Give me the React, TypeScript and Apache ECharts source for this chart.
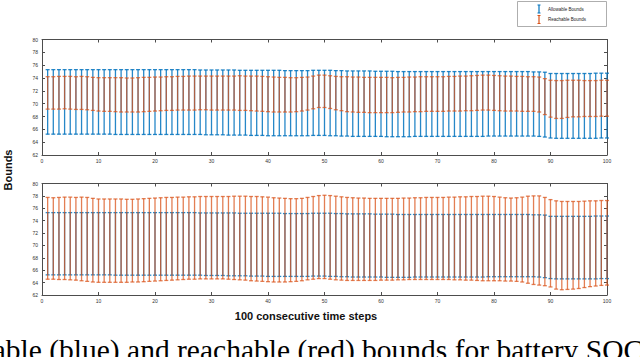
import React, { useEffect, useRef } from "react";
import * as echarts from "echarts";

const xTicks = [0, 10, 20, 30, 40, 50, 60, 70, 80, 90, 100];
const yTicks = [62, 64, 66, 68, 70, 72, 74, 76, 78, 80];

// Allowable bounds (same in both panels)
const allowHigh = [
  75.3, 75.3, 75.3, 75.3, 75.3, 75.3, 75.3, 75.3, 75.3, 75.3,
  75.3, 75.3, 75.3, 75.3, 75.3, 75.3, 75.3, 75.3, 75.3, 75.3,
  75.3, 75.3, 75.3, 75.3, 75.3, 75.3, 75.3, 75.25, 75.25, 75.25,
  75.25, 75.25, 75.25, 75.25, 75.2, 75.2, 75.2, 75.2, 75.2, 75.2,
  75.2, 75.2, 75.15, 75.15, 75.15, 75.15, 75.15, 75.2, 75.2, 75.2,
  75.2, 75.15, 75.15, 75.1, 75.1, 75.1, 75.1, 75.1, 75.05, 75.05,
  75.05, 75.05, 75.0, 75.0, 75.0, 75.0, 75.0, 75.0, 75.0, 75.0,
  75.0, 75.0, 75.0, 75.0, 75.0, 75.0, 75.0, 75.0, 75.0, 75.0,
  75.0, 75.0, 75.0, 75.0, 75.0, 75.0, 74.95, 74.95, 74.9, 74.7,
  74.7, 74.7, 74.7, 74.7, 74.7, 74.7, 74.7, 74.75, 74.75, 74.75,
];
const allowLow = [
  65.25, 65.25, 65.25, 65.25, 65.25, 65.25, 65.25, 65.25, 65.25, 65.25,
  65.25, 65.25, 65.2, 65.2, 65.2, 65.2, 65.2, 65.2, 65.2, 65.2,
  65.2, 65.2, 65.2, 65.2, 65.2, 65.2, 65.2, 65.2, 65.15, 65.15,
  65.15, 65.15, 65.1, 65.1, 65.1, 65.1, 65.05, 65.05, 65.05, 65.0,
  65.0, 65.0, 65.0, 65.0, 65.0, 65.0, 65.0, 65.05, 65.05, 65.05,
  65.0, 65.0, 64.95, 64.95, 64.9, 64.9, 64.9, 64.9, 64.9, 64.9,
  64.85, 64.85, 64.85, 64.85, 64.85, 64.9, 64.9, 64.9, 64.9, 64.9,
  64.9, 64.9, 64.9, 64.9, 64.9, 64.9, 64.9, 64.9, 64.95, 64.95,
  64.95, 64.95, 64.95, 64.95, 64.95, 64.95, 64.95, 64.9, 64.8, 64.65,
  64.6, 64.6, 64.6, 64.6, 64.6, 64.6, 64.6, 64.6, 64.65, 64.65,
];

// Top panel reachable bounds
const reachTopHigh = [
  74.2, 74.2, 74.25, 74.25, 74.25, 74.2, 74.25, 74.2, 74.1, 74.05,
  74.05, 74.05, 74.05, 74.05, 74.0, 74.0, 74.05, 74.1, 74.1, 74.15,
  74.15, 74.2, 74.2, 74.25, 74.25, 74.3, 74.3, 74.3, 74.3, 74.3,
  74.3, 74.3, 74.3, 74.3, 74.35, 74.3, 74.3, 74.3, 74.25, 74.2,
  74.15, 74.1, 74.1, 74.05, 74.05, 74.1, 74.15, 74.3, 74.45, 74.45,
  74.35, 74.25, 74.2, 74.2, 74.15, 74.15, 74.1, 74.1, 74.1, 74.1,
  74.1, 74.05, 74.1, 74.1, 74.15, 74.15, 74.2, 74.2, 74.2, 74.2,
  74.2, 74.25, 74.25, 74.3, 74.3, 74.35, 74.4, 74.45, 74.45, 74.4,
  74.35, 74.3, 74.3, 74.25, 74.25, 74.2, 74.2, 74.15, 73.9, 73.65,
  73.6, 73.6, 73.65, 73.65, 73.65, 73.6, 73.6, 73.6, 73.65, 73.65,
];
const reachTopLow = [
  69.15, 69.15, 69.15, 69.2, 69.15, 69.1, 69.1, 69.05, 68.95, 68.85,
  68.8, 68.8, 68.75, 68.7, 68.7, 68.7, 68.7, 68.75, 68.8, 68.85,
  68.9, 68.95, 68.95, 69.0, 69.0, 69.0, 69.0, 69.05, 69.05, 69.0,
  69.0, 69.0, 69.0, 69.0, 68.95, 68.95, 68.9, 68.85, 68.8, 68.75,
  68.7, 68.7, 68.7, 68.7, 68.75, 68.85, 69.0, 69.2, 69.4, 69.4,
  69.25, 69.05, 68.9, 68.75, 68.7, 68.65, 68.65, 68.6, 68.6, 68.6,
  68.6, 68.6, 68.65, 68.7, 68.7, 68.75, 68.75, 68.8, 68.8, 68.8,
  68.8, 68.85, 68.85, 68.85, 68.9, 68.9, 68.95, 69.0, 69.0, 68.95,
  68.9, 68.85, 68.85, 68.85, 68.8, 68.8, 68.8, 68.7, 68.3, 67.9,
  67.7, 67.7, 67.85, 67.95, 67.95, 68.0, 68.0, 68.0, 68.05, 68.05,
];

// Bottom panel reachable bounds
const reachBotHigh = [
  77.75, 77.7, 77.75, 77.8, 77.8, 77.75, 77.8, 77.75, 77.6, 77.5,
  77.5, 77.5, 77.5, 77.5, 77.45, 77.45, 77.5, 77.55, 77.6, 77.65,
  77.7, 77.75, 77.75, 77.8, 77.8, 77.85, 77.85, 77.9, 77.9, 77.9,
  77.9, 77.9, 77.9, 77.95, 77.95, 77.95, 77.9, 77.9, 77.85, 77.8,
  77.7, 77.65, 77.6, 77.55, 77.55, 77.6, 77.75, 77.9, 78.05, 78.1,
  78.05, 77.95, 77.85, 77.75, 77.7, 77.65, 77.65, 77.6, 77.6, 77.6,
  77.6, 77.6, 77.6, 77.65, 77.65, 77.7, 77.7, 77.75, 77.75, 77.75,
  77.75, 77.8, 77.8, 77.85, 77.85, 77.9, 77.9, 77.95, 77.95, 77.9,
  77.8, 77.7, 77.65, 77.7, 77.8, 77.95, 78.0, 78.0, 77.75, 77.4,
  77.2, 77.1, 77.1, 77.1, 77.1, 77.15, 77.2, 77.2, 77.25, 77.25,
];
const reachBotLow = [
  64.55, 64.55, 64.5, 64.5, 64.45, 64.4, 64.3, 64.2, 64.1, 64.05,
  64.05, 64.05, 64.05, 64.05, 64.05, 64.1, 64.1, 64.15, 64.2, 64.25,
  64.3, 64.35, 64.4, 64.45, 64.5, 64.55, 64.55, 64.6, 64.6, 64.6,
  64.6, 64.6, 64.55, 64.5, 64.45, 64.4, 64.3, 64.25, 64.2, 64.15,
  64.1, 64.1, 64.1, 64.15, 64.2, 64.3, 64.45, 64.55, 64.65, 64.65,
  64.55, 64.45, 64.4, 64.35, 64.35, 64.35, 64.35, 64.35, 64.35, 64.4,
  64.4, 64.4, 64.45, 64.45, 64.5, 64.5, 64.5, 64.5, 64.5, 64.5,
  64.5, 64.5, 64.45, 64.45, 64.4, 64.4, 64.35, 64.3, 64.3, 64.3,
  64.3, 64.25, 64.25, 64.2, 64.1, 63.9, 63.7, 63.6, 63.5, 63.3,
  62.95, 62.85, 62.9, 62.95, 63.05, 63.2, 63.35, 63.45, 63.55, 63.6,
];

const legendNames = ["Allowable Bounds", "Reachable Bounds"];
const xLabel = "100 consecutive time steps";
const yLabel = "Bounds";
const caption = "Allowable (blue) and reachable (red) bounds for battery SOC";

const BLUE = "#0072BD";
const RED = "#D95319";
const AXIS = "#4d4d4d";

function errorBarSeries(name: string, low: number[], high: number[], color: string, axisIdx: number, opacity: number) {
  const data = low.map((lo, i) => [i + 1, lo, high[i]]);
  return {
    type: "custom",
    name,
    xAxisIndex: axisIdx,
    yAxisIndex: axisIdx,
    data,
    encode: { x: 0, y: [1, 2] },
    clip: false,
    renderItem: (params: any, api: any) => {
      const x = api.value(0);
      const pLo = api.coord([x, api.value(1)]);
      const pHi = api.coord([x, api.value(2)]);
      const hw = 2;
      const st = { stroke: color, lineWidth: 1.3, opacity };
      return {
        type: "group",
        children: [
          { type: "line", shape: { x1: pLo[0], y1: pLo[1], x2: pHi[0], y2: pHi[1] }, style: st },
          { type: "line", shape: { x1: pLo[0] - hw, y1: pLo[1], x2: pLo[0] + hw, y2: pLo[1] }, style: st },
          { type: "line", shape: { x1: pHi[0] - hw, y1: pHi[1], x2: pHi[0] + hw, y2: pHi[1] }, style: st },
        ],
      };
    },
  };
}

function makeX(gridIndex: number, position: string, showLabel: boolean) {
  return {
    gridIndex,
    type: "value",
    position,
    min: xTicks[0],
    max: xTicks[xTicks.length - 1],
    interval: 10,
    axisLine: { show: true, onZero: false, lineStyle: { color: AXIS, width: 1 } },
    axisTick: { show: true, inside: true, length: 3, lineStyle: { color: AXIS } },
    axisLabel: { show: showLabel, fontSize: 5, margin: 3, color: "#333", fontFamily: "Liberation Sans" },
    splitLine: { show: false },
  };
}
function makeY(gridIndex: number, position: string, showLabel: boolean) {
  return {
    gridIndex,
    type: "value",
    position,
    min: yTicks[0],
    max: yTicks[yTicks.length - 1],
    interval: 2,
    axisLine: { show: true, onZero: false, lineStyle: { color: AXIS, width: 1 } },
    axisTick: { show: true, inside: true, length: 3, lineStyle: { color: AXIS } },
    axisLabel: { show: showLabel, fontSize: 5, margin: 4, color: "#333", fontFamily: "Liberation Sans" },
    splitLine: { show: false },
  };
}

export default function App() {
  const ref = useRef<HTMLDivElement>(null);
  useEffect(() => {
    if (!ref.current) return;
    const chart = echarts.init(ref.current, undefined, { renderer: "svg" });
    const legendItem = (y: number, color: string, label: string) => [
      { type: "line", shape: { x1: 539, y1: y - 4, x2: 539, y2: y + 4 }, style: { stroke: color, lineWidth: 1.2 } },
      { type: "line", shape: { x1: 537.5, y1: y - 4, x2: 540.5, y2: y - 4 }, style: { stroke: color, lineWidth: 1 } },
      { type: "line", shape: { x1: 537.5, y1: y + 4, x2: 540.5, y2: y + 4 }, style: { stroke: color, lineWidth: 1 } },
      { type: "text", x: 548, y, style: { text: label, fontSize: 4.5, fill: "#222", fontFamily: "Liberation Sans", verticalAlign: "middle" } },
    ];
    chart.setOption({
      animation: false,
      backgroundColor: "#fff",
      grid: [
        { left: 42, right: 33, top: 39.5, height: 115.5 },
        { left: 42, right: 33, top: 183.5, height: 111.5 },
      ],
      xAxis: [makeX(0, "bottom", true), makeX(0, "top", false), makeX(1, "bottom", true), makeX(1, "top", false)],
      yAxis: [makeY(0, "left", true), makeY(0, "right", false), makeY(1, "left", true), makeY(1, "right", false)],
      series: [
        errorBarSeries(legendNames[0], allowLow, allowHigh, BLUE, 0, 0.85),
        errorBarSeries(legendNames[1], reachTopLow, reachTopHigh, RED, 0, 0.75),
        errorBarSeries(legendNames[0], allowLow, allowHigh, BLUE, 2, 0.85),
        errorBarSeries(legendNames[1], reachBotLow, reachBotHigh, RED, 2, 0.75),
      ],
      graphic: [
        { type: "rect", shape: { x: 517.5, y: 1.5, width: 89, height: 25 }, style: { fill: "#fff", stroke: "#999", lineWidth: 0.8 } },
        ...legendItem(9, BLUE, legendNames[0]),
        ...legendItem(19.5, RED, legendNames[1]),
        { type: "text", x: 8, y: 170, rotation: Math.PI / 2, style: { text: yLabel, fontSize: 11, fontWeight: "bold", fill: "#111", fontFamily: "Liberation Sans", align: "center", verticalAlign: "middle" } },
        { type: "text", x: 306, y: 316, style: { text: xLabel, fontSize: 11, fontWeight: "bold", fill: "#111", fontFamily: "Liberation Sans", align: "center", verticalAlign: "middle" } },
        { type: "text", x: -81, y: 350, style: { text: caption, fontSize: 29.5, fill: "#000", fontFamily: "Liberation Serif", align: "left", verticalAlign: "middle" } },
      ],
    });
    return () => chart.dispose();
  }, []);
  return <div ref={ref} style={{ position: "fixed", left: 0, top: 0, width: 640, height: 357 }} />;
}
